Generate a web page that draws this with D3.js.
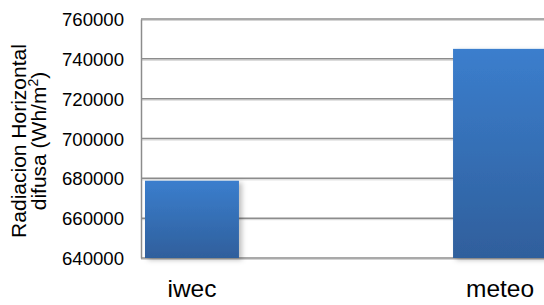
<!DOCTYPE html>
<html>
<head>
<meta charset="utf-8">
<script src="https://cdn.jsdelivr.net/npm/d3@7"></script>
<style>
  body { margin: 0; background: #fff; }
  svg { display: block; font-family: "Liberation Sans", Arial, sans-serif; }
</style>
</head>
<body>
<div id="chart"></div>
<script>
// DATA ------------------------------
const categories = ["iwec", "meteo"];
const values = [678800, 745000];
const yTicks = [640000, 660000, 680000, 700000, 720000, 740000, 760000];

// CHART INIT ------------------------------
const width = 544, height = 305;
const plot = {left: 141, top: 19, bottom: 258, right: 551};

let svg = d3.select("#chart").append("svg")
    .attr("width", width)
    .attr("height", height);

let defs = svg.append("defs");
let grad = defs.append("linearGradient")
    .attr("id", "barGrad")
    .attr("x1", 0).attr("y1", 0).attr("x2", 0).attr("y2", 1);
grad.append("stop").attr("offset", "0%").attr("stop-color", "#3b7ecd");
grad.append("stop").attr("offset", "100%").attr("stop-color", "#2f5f9c");

let shadow = defs.append("filter").attr("id", "shadow")
    .attr("x", "-10%").attr("y", "-10%").attr("width", "130%").attr("height", "130%");
shadow.append("feDropShadow")
    .attr("dx", 3).attr("dy", 2).attr("stdDeviation", 2.5)
    .attr("flood-color", "#000").attr("flood-opacity", 0.25);

let yScale = d3.scaleLinear()
    .domain([640000, 760000])
    .range([plot.bottom, plot.top]);

let xScale = d3.scaleBand()
    .domain(categories)
    .range([plot.left, plot.right])
    .paddingInner(0.695)
    .paddingOuter(0.013);

// gridlines
let grid = svg.append("g").attr("class", "grid");
grid.selectAll("line.shade")
    .data(yTicks)
    .enter().append("line")
    .attr("class", "shade")
    .attr("x1", plot.left).attr("x2", plot.right)
    .attr("y1", d => yScale(d) + 1.5).attr("y2", d => yScale(d) + 1.5)
    .attr("stroke", "#d4d4d4").attr("stroke-width", 1);
grid.selectAll("line.main")
    .data(yTicks)
    .enter().append("line")
    .attr("class", "main")
    .attr("x1", plot.left).attr("x2", plot.right)
    .attr("y1", d => yScale(d)).attr("y2", d => yScale(d))
    .attr("stroke", "#8c8c8c").attr("stroke-width", 1.5);

// y axis
let yAxis = d3.axisLeft(yScale)
    .tickValues(yTicks)
    .tickSize(0)
    .tickPadding(17)
    .tickFormat(d3.format("d"));

let yAxisGroup = svg.append("g")
    .attr("class", "y-axis axis")
    .attr("transform", "translate(" + plot.left + ",0)")
    .call(yAxis);
yAxisGroup.select(".domain")
    .attr("stroke", "#8c8c8c").attr("stroke-width", 1.5);
yAxisGroup.selectAll("text")
    .attr("fill", "#000")
    .style("font-size", "18.6px")
    .attr("dy", "0.35em");

// bars
svg.selectAll(".bar")
    .data(categories)
    .enter().append("rect")
    .attr("class", "bar")
    .attr("x", d => xScale(d))
    .attr("y", (d, i) => yScale(values[i]))
    .attr("width", xScale.bandwidth())
    .attr("height", (d, i) => plot.bottom - yScale(values[i]))
    .attr("fill", "url(#barGrad)")
    .attr("filter", "url(#shadow)");

// x axis
let xAxis = d3.axisBottom(xScale).tickSize(0).tickPadding(22);
let xAxisGroup = svg.append("g")
    .attr("class", "x-axis axis")
    .attr("transform", "translate(0," + plot.bottom + ")")
    .call(xAxis);
xAxisGroup.select(".domain").remove();
xAxisGroup.selectAll("text")
    .attr("fill", "#000")
    .style("font-size", "24.5px");

// y axis title
let title = svg.append("text")
    .attr("class", "y-axis-title")
    .attr("transform", "translate(26,141) rotate(-90)")
    .style("text-anchor", "middle")
    .style("font-size", "21px")
    .attr("fill", "#000");
title.append("tspan").attr("x", 0).attr("y", 0).text("Radiacion Horizontal");
let line2 = title.append("tspan").attr("x", 0).attr("y", 20).text("difusa (Wh/m");
line2.append("tspan").attr("dy", -8).style("font-size", "14px").text("2");
line2.append("tspan").attr("dy", 8).text(")");
</script>
</body>
</html>
